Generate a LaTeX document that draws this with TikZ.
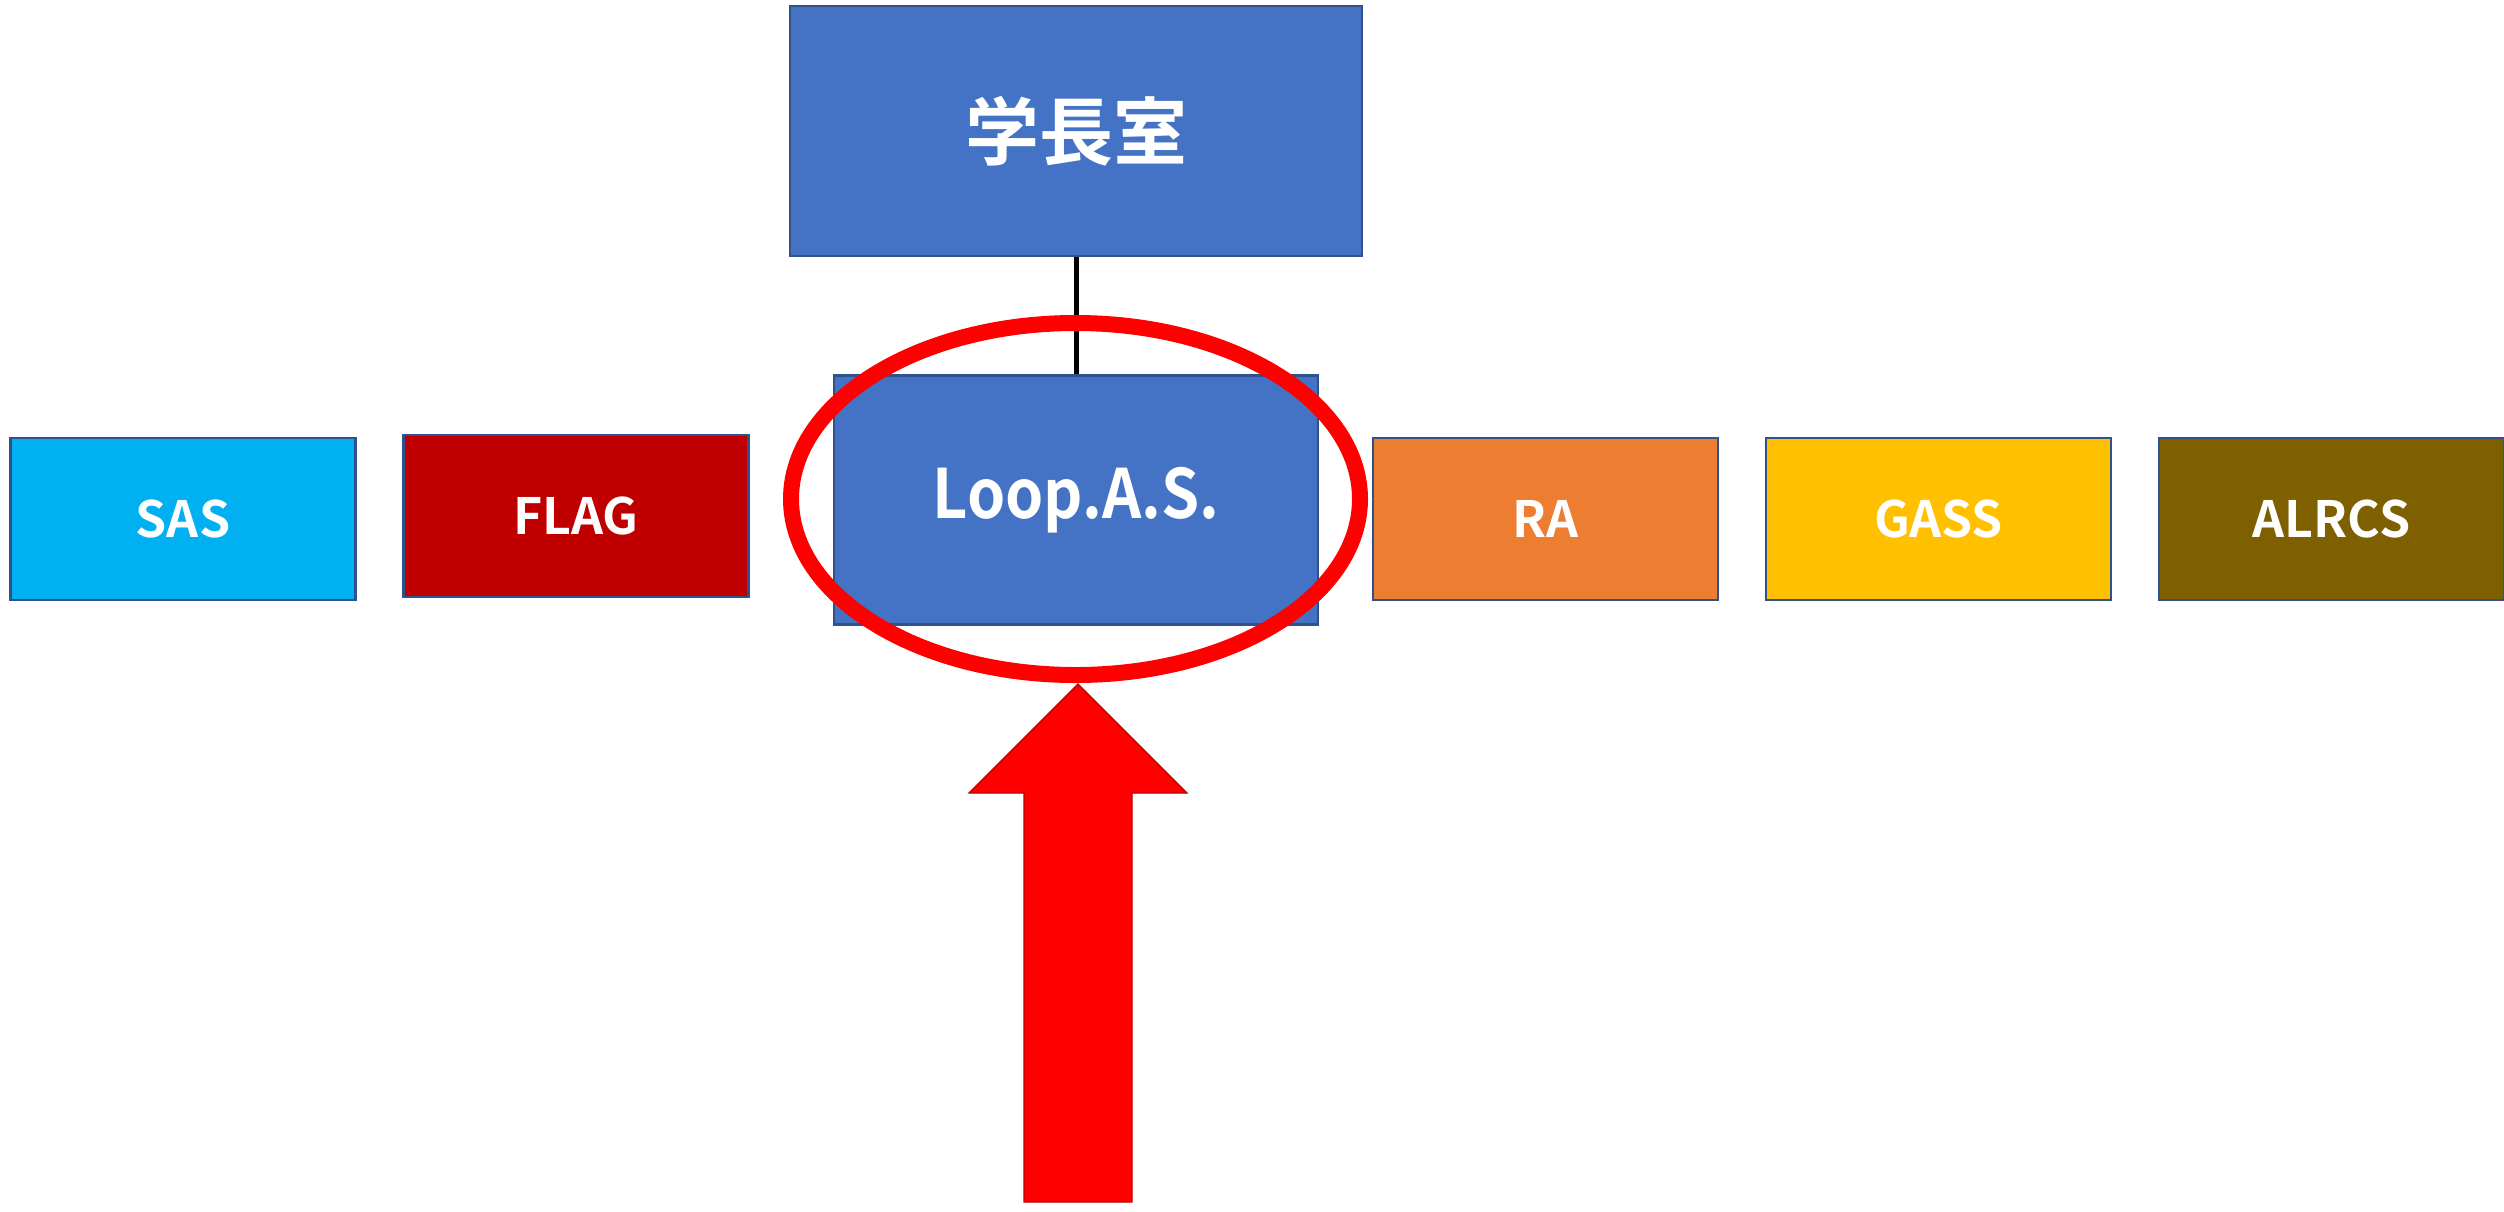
\documentclass[tikz,border=0pt]{standalone}
\usepackage{fontspec}
\setmainfont{Noto Sans CJK JP}[BoldFont={Noto Sans CJK JP Bold}]
\newfontfamily\narrowfont{Noto Sans CJK JP Bold}[FakeStretch=0.9]
\usetikzlibrary{shapes.geometric}
\definecolor{boxblue}{HTML}{4472C4}
\definecolor{edgeblue}{HTML}{2F528F}
\definecolor{sascol}{HTML}{00B0F0}
\definecolor{flagcol}{HTML}{C00000}
\definecolor{racol}{HTML}{ED7D31}
\definecolor{gasscol}{HTML}{FFC000}
\definecolor{alrcscol}{HTML}{7F6000}
\definecolor{arrowred}{HTML}{FF0000}
\definecolor{arrowedge}{HTML}{C00000}
\tikzset{
  orgbox/.style={rectangle, draw=edgeblue, line width=1.3pt, inner sep=0pt,
    text=white, font=\fontsize{25}{30}\selectfont\bfseries},
  smallbox/.style={orgbox, minimum width=172.5pt, minimum height=81pt},
  link/.style={draw=black, line width=2.5pt},
  ring/.style={ellipse, draw=arrowred, line width=8pt, inner sep=0pt,
    minimum width=284.5pt, minimum height=176pt},
  bigarrow/.style={fill=arrowred, draw=arrowedge, line width=0.6pt, line join=miter}
}
\begin{document}
\begin{tikzpicture}[x=0.5pt, y=-0.5pt]
  \useasboundingbox (0,0) rectangle (2504,1211);
  \node[orgbox, fill=boxblue, minimum width=286pt, minimum height=125pt,
        font=\fontsize{37}{44}\selectfont\bfseries] (office) at (1076,131) {学長室};
  \node[orgbox, fill=boxblue, minimum width=242pt, minimum height=124.5pt,
        font=\fontsize{34}{40}\narrowfont] (loop) at (1076,500) {Loop.A.S.};
  \node[smallbox, fill=sascol]   (sas)   at (183,519)    {SAS};
  \node[smallbox, fill=flagcol]  (flag)  at (576,516)    {FLAG};
  \node[smallbox, fill=racol]    (ra)    at (1545.5,519) {RA};
  \node[smallbox, fill=gasscol]  (gass)  at (1938.5,519) {GASS};
  \node[smallbox, fill=alrcscol] (alrcs) at (2331.5,519) {ALRCS};
  \draw[link] (office.south) -- (loop.north);
  \node[ring] (hl) at (1075.5,499) {};
  \draw[bigarrow] (1078,684) -- (1187,793) -- (1132,793) -- (1132,1202)
    -- (1024,1202) -- (1024,793) -- (969,793) -- cycle;
\end{tikzpicture}
\end{document}
